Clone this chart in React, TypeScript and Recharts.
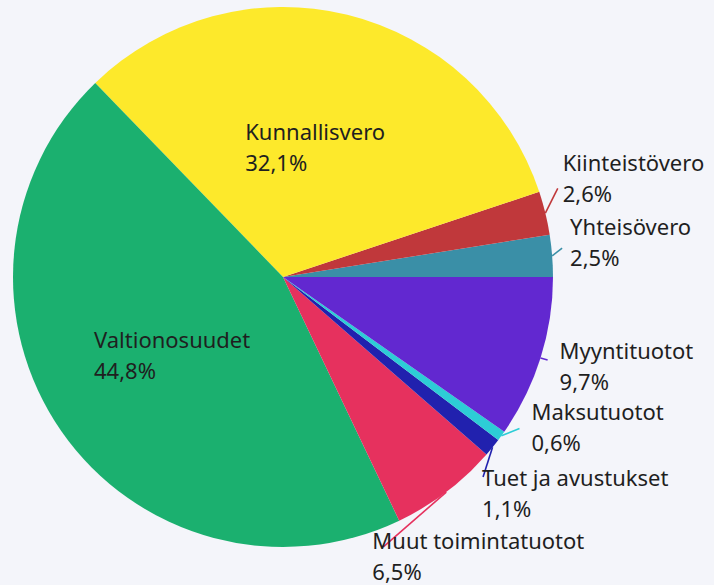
import React from 'react';
import { PieChart, Pie, Cell } from 'recharts';

const categories = [
  'Yhteisövero',
  'Kiinteistövero',
  'Kunnallisvero',
  'Valtionosuudet',
  'Muut toimintatuotot',
  'Tuet ja avustukset',
  'Maksutuotot',
  'Myyntituotot',
];
const shares = [2.5, 2.6, 32.1, 44.8, 6.5, 1.1, 0.6, 9.7];
const colors = ['#3A8FA7', '#C0383B', '#FDE92B', '#1BB06F', '#E6315E', '#2121AE', '#2DCDD6', '#6228D0'];
const insideLabels = ['Kunnallisvero', 'Valtionosuudet'];

const data = categories.map((name, i) => ({ name, value: shares[i] }));

const FONT = '"Segoe UI", "Noto Sans", "Open Sans", sans-serif';
const FS = 22;
const LH = 31;
const TEXT = '#1f1f1f';

// label layout nudges (line end n, text origin t) relative to point at outerRadius+20
const NUDGE: Record<string, { n: [number, number]; t: [number, number] }> = {
  'Yhteisövero': { n: [-10, -6], t: [-2, -19] },
  'Kiinteistövero': { n: [-7, -20], t: [-2, -37] },
  'Myyntituotot': { n: [-12, -4], t: [0, -5] },
  'Maksutuotot': { n: [2, -19], t: [14, -28] },
  'Tuet ja avustukset': { n: [-25, 17], t: [-26, 26] },
  'Muut toimintatuotot': { n: [-75, 39], t: [-86, 41] },
};

let ctx: CanvasRenderingContext2D | null = null;
function measure(s: string) {
  if (typeof document === 'undefined') return s.length * FS * 0.5;
  if (!ctx) ctx = document.createElement('canvas').getContext('2d');
  if (!ctx) return s.length * FS * 0.5;
  ctx.font = `${FS}px ${FONT}`;
  return ctx.measureText(s).width;
}

const RAD = Math.PI / 180;
const fmt = (v: number) => v.toFixed(1).replace('.', ',') + '%';

function renderLabel(props: any) {
  const { cx, cy, midAngle, outerRadius, name, value, index } = props;
  const cos = Math.cos(-midAngle * RAD);
  const sin = Math.sin(-midAngle * RAD);
  const pct = fmt(value);
  if (insideLabels.includes(name)) {
    const r = outerRadius * 0.5;
    const bx = cx + r * cos;
    const by = cy + r * sin;
    const w = measure(name);
    const x = bx - w / 2;
    return (
      <g key={`l-${index}`}>
        <text x={x} y={by - 6} fill={TEXT} fontSize={FS} fontFamily={FONT} textAnchor="start">
          {name}
        </text>
        <text x={x} y={by - 6 + LH} fill={TEXT} fontSize={FS} fontFamily={FONT} textAnchor="start">
          {pct}
        </text>
      </g>
    );
  }
  const nd = NUDGE[name] || { n: [0, 0], t: [8, 0] };
  const sx = cx + outerRadius * cos;
  const sy = cy + outerRadius * sin;
  const px = cx + (outerRadius + 20) * cos;
  const py = cy + (outerRadius + 20) * sin;
  const ex = px + nd.n[0];
  const ey = py + nd.n[1];
  const tx = px + nd.t[0];
  const ty = py + nd.t[1];
  return (
    <g key={`l-${index}`}>
      <line x1={sx} y1={sy} x2={ex} y2={ey} stroke={colors[index]} strokeWidth={1.6} />
      <text x={tx} y={ty} fill={TEXT} fontSize={FS} fontFamily={FONT} textAnchor="start">
        {name}
      </text>
      <text x={tx} y={ty + LH} fill={TEXT} fontSize={FS} fontFamily={FONT} textAnchor="start">
        {pct}
      </text>
    </g>
  );
}

export default function App() {
  return (
    <div style={{ position: 'absolute', left: 0, top: 0, width: 714, height: 585, background: '#F4F5FA' }}>
      <PieChart width={714} height={585} margin={{ top: 0, right: 0, bottom: 0, left: 0 }}>
        <Pie
          data={data}
          dataKey="value"
          nameKey="name"
          cx={283}
          cy={277}
          outerRadius={270}
          startAngle={0}
          endAngle={360}
          stroke="none"
          label={renderLabel}
          labelLine={false}
          isAnimationActive={false}
        >
          {data.map((d, i) => (
            <Cell key={d.name} fill={colors[i]} />
          ))}
        </Pie>
      </PieChart>
    </div>
  );
}
